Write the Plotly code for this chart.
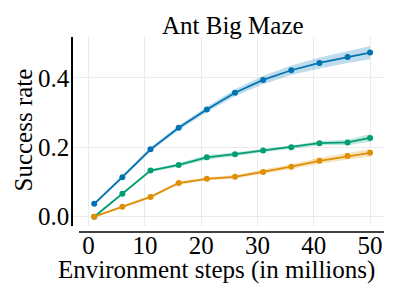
import plotly.graph_objects as go

steps = [1, 6, 11, 16, 21, 26, 31, 36, 41, 46, 50]
blue_mean = [0.037, 0.114, 0.194, 0.256, 0.309, 0.357, 0.394, 0.422, 0.443, 0.460, 0.473]
blue_err = [0.004, 0.005, 0.006, 0.007, 0.008, 0.010, 0.012, 0.014, 0.016, 0.017, 0.019]
green_mean = [0.000, 0.066, 0.133, 0.149, 0.171, 0.180, 0.191, 0.200, 0.212, 0.214, 0.227]
green_err = [0.002, 0.003, 0.004, 0.005, 0.007, 0.006, 0.005, 0.005, 0.006, 0.008, 0.011]
orange_mean = [0.000, 0.029, 0.057, 0.097, 0.109, 0.115, 0.129, 0.144, 0.161, 0.175, 0.184]
orange_err = [0.002, 0.003, 0.004, 0.005, 0.005, 0.005, 0.006, 0.007, 0.009, 0.010, 0.011]
x_ticks = [0, 10, 20, 30, 40, 50]
y_ticks = [0.0, 0.2, 0.4]
y_ticktext = ["0.0", "0.2", "0.4"]

series = [
    (blue_mean, blue_err, "#0173b2", "rgba(1,115,178,0.25)"),
    (green_mean, green_err, "#029e73", "rgba(2,158,115,0.25)"),
    (orange_mean, orange_err, "#de8f05", "rgba(222,143,5,0.25)"),
]

FONT = "Liberation Serif"
FS = 25
fig = go.Figure()
for mean, err, col, fill in series:
    upper = [m + e for m, e in zip(mean, err)]
    lower = [m - e for m, e in zip(mean, err)]
    fig.add_trace(go.Scatter(x=steps + steps[::-1], y=upper + lower[::-1], fill="toself",
                             fillcolor=fill, line=dict(width=0), mode="lines",
                             hoverinfo="skip", showlegend=False))
for mean, err, col, fill in series:
    fig.add_trace(go.Scatter(x=steps, y=mean, mode="lines+markers",
                             line=dict(color=col, width=1.8),
                             marker=dict(color=col, size=6), showlegend=False))

# page body has an 8px margin, so figure coords = screen coords - 8
W, H = 391, 291
L, R, T, B = 65, 376, 29, 218
pw, ph = R - L, B - T


def px(x):
    return (x - L) / pw


def py(y):
    return (B - y) / ph


fig.update_layout(
    width=W, height=H,
    margin=dict(l=L, r=W - R, t=T, b=H - B, pad=0, autoexpand=False),
    plot_bgcolor="white", paper_bgcolor="white",
    font=dict(family=FONT, size=FS, color="black"),
    showlegend=False,
)
fig.update_xaxes(range=[-2.77, 52.47], tickvals=x_ticks,
                 showgrid=True, gridcolor="#ebebeb", gridwidth=1, zeroline=False,
                 showline=False, ticks="", ticklen=0, ticklabelstandoff=2, automargin=False,
                 tickfont=dict(family=FONT, size=FS))
fig.update_yaxes(range=[-0.0268, 0.5178], tickvals=y_ticks, ticktext=y_ticktext,
                 showgrid=True, gridcolor="#ebebeb", gridwidth=1, zeroline=False,
                 showline=True, linecolor="black", linewidth=1.5, ticks="", ticklen=0,
                 ticklabelstandoff=-3, automargin=False,
                 tickfont=dict(family=FONT, size=FS))

fig.add_shape(type="line", xref="paper", yref="paper",
              x0=6 / pw, x1=1, y0=-6 / ph, y1=-6 / ph,
              line=dict(color="black", width=1.5))

fig.add_annotation(text="Ant Big Maze", xref="paper", yref="paper", x=px(225), y=py(17.5),
                   xanchor="center", yanchor="middle", showarrow=False,
                   font=dict(family=FONT, size=FS, color="black"))
fig.add_annotation(text="Environment steps (in millions)", xref="paper", yref="paper",
                   x=px(208), y=py(262), xanchor="center", yanchor="middle", showarrow=False,
                   font=dict(family=FONT, size=FS, color="black"))
fig.add_annotation(text="Success rate", xref="paper", yref="paper", textangle=-90,
                   x=px(15), y=py(122.5), xanchor="center", yanchor="middle", showarrow=False,
                   font=dict(family=FONT, size=FS, color="black"))

fig.write_html("out.html")
